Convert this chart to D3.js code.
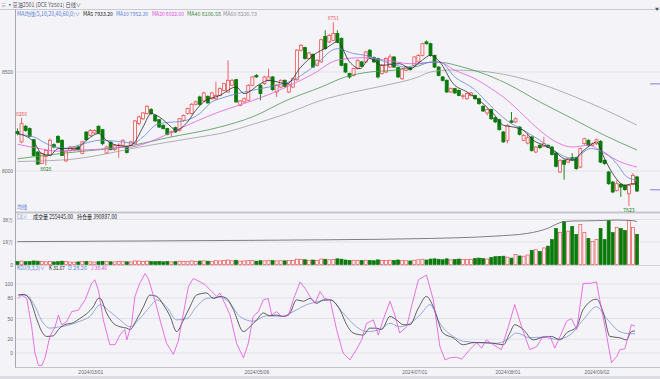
<!DOCTYPE html>
<html>
<head>
<meta charset="utf-8">
<script src="https://cdn.jsdelivr.net/npm/d3@7"></script>
<style>
body{margin:0;background:#f4f4f8;}
svg{display:block;font-family:"Noto Sans CJK SC","Noto Sans",sans-serif;}
</style>
</head>
<body>
<svg id="chart" width="660" height="379"></svg>
<script>
// daily candles, index 0 = first bar on the left
const opens=[8200,8147,8226,8214,8158,8096,8037,8074,8079,8133,
8175,8155,8051,8104,8108,8121,8088,8197,8180,8192,
8226,8209,8091,8145,8108,8128,8130,8121,8130,8138,
8240,8264,8290,8310,8281,8259,8231,8214,8195,8219,
8205,8256,8290,8290,8337,8374,8354,8377,8365,8365,
8382,8407,8399,8433,8461,8332,8349,8357,8433,8482,
8433,8441,8458,8475,8399,8424,8458,8399,8424,8461,
8610,8623,8568,8589,8534,8551,8680,8652,8660,8694,
8669,8542,8492,8483,8517,8551,8551,8610,8573,8568,
8492,8500,8525,8576,8522,8466,8509,8522,8534,8551,
8584,8652,8643,8584,8525,8475,8458,8399,8416,8407,
8377,8365,8381,8381,8365,8327,8293,8310,8269,8259,
8197,8155,8253,8248,8222,8155,8141,8172,8096,8130,
8125,8130,8121,8091,7995,8054,8045,8067,8067,8020,
8138,8155,8130,8138,8150,8054,7995,7944,7902,7933,
7928,7885,7933,7970];
const highs=[8215,8268,8232,8220,8162,8100,8092,8110,8165,8140,
8180,8160,8105,8128,8126,8130,8152,8200,8212,8210,
8230,8212,8128,8150,8135,8140,8160,8125,8152,8258,
8280,8298,8332,8318,8285,8262,8235,8218,8205,8224,
8268,8286,8320,8342,8356,8380,8400,8382,8400,8450,
8422,8446,8559,8465,8466,8358,8372,8438,8480,8490,
8438,8480,8517,8480,8438,8463,8462,8444,8472,8616,
8640,8628,8602,8594,8565,8668,8711,8692,8751,8711,
8675,8546,8496,8522,8564,8556,8606,8616,8578,8572,
8540,8574,8590,8580,8526,8522,8530,8526,8580,8590,
8648,8660,8648,8588,8530,8480,8462,8422,8420,8412,
8388,8396,8400,8386,8370,8332,8316,8314,8274,8264,
8202,8236,8298,8270,8226,8186,8190,8176,8126,8135,
8172,8134,8125,8095,8060,8058,8068,8090,8072,8118,
8168,8160,8144,8164,8156,8058,8000,7950,7953,7938,
7932,7934,7990,7976];
const lows=[8180,8140,8198,8170,8075,8030,8035,8028,8075,8115,
8140,8075,8045,8098,8100,8104,8084,8150,8175,8188,
8188,8130,8085,8104,8100,8067,8125,8088,8125,8133,
8230,8258,8285,8285,8248,8218,8210,8180,8172,8192,
8200,8250,8285,8285,8332,8330,8348,8340,8360,8360,
8378,8402,8395,8428,8344,8327,8344,8352,8428,8470,
8357,8435,8452,8405,8374,8418,8422,8394,8418,8455,
8604,8562,8562,8520,8528,8546,8612,8646,8655,8646,
8528,8494,8466,8478,8512,8524,8546,8570,8546,8468,
8486,8494,8520,8520,8470,8460,8504,8506,8528,8546,
8578,8638,8578,8520,8478,8452,8394,8394,8390,8378,
8362,8360,8376,8360,8335,8298,8281,8258,8242,8204,
8142,8140,8240,8242,8180,8150,8135,8098,8090,8112,
8120,8116,8078,8018,7990,7956,8040,8050,8006,8014,
8132,8124,8125,8132,8040,8032,7930,7888,7896,7869,
7900,7823,7928,7894];
const closes=[8189,8239,8205,8175,8079,8035,8088,8104,8155,8121,
8145,8079,8101,8121,8121,8108,8147,8158,8205,8205,
8192,8138,8121,8108,8130,8131,8155,8094,8147,8253,
8273,8293,8327,8290,8253,8222,8214,8185,8198,8197,
8264,8281,8315,8337,8349,8337,8394,8344,8394,8382,
8416,8441,8458,8458,8349,8354,8365,8433,8475,8475,
8391,8475,8475,8411,8433,8458,8428,8438,8466,8610,
8635,8568,8596,8525,8559,8663,8618,8685,8694,8652,
8534,8500,8475,8517,8559,8529,8601,8576,8551,8475,
8534,8568,8576,8525,8475,8517,8525,8512,8576,8584,
8643,8643,8584,8525,8483,8458,8399,8416,8394,8382,
8380,8391,8394,8365,8340,8303,8310,8264,8248,8209,
8147,8231,8246,8264,8185,8180,8168,8104,8121,8118,
8138,8121,8084,8024,8054,8034,8062,8057,8012,8113,
8163,8130,8138,8158,8045,8037,7936,7894,7936,7919,
7906,7928,7978,7899];
// volume in 万 lots
const volumes=[2.6,2.9,2.4,2.5,3.0,2.8,2.7,2.3,2.5,2.2,
2.4,2.8,2.6,2.1,2.0,2.2,2.5,2.6,2.3,2.1,
2.4,2.7,2.5,2.3,2.2,2.6,2.4,2.3,2.2,3.0,
2.9,2.6,2.8,2.5,2.4,2.6,2.3,2.5,2.2,2.4,
2.8,2.6,2.7,3.0,2.5,2.9,3.1,2.8,2.6,3.2,
3.0,3.3,3.8,3.1,3.6,2.9,3.0,3.4,3.5,2.8,
3.2,3.1,3.4,3.3,3.0,3.2,3.1,3.3,3.5,4.5,
4.2,4.0,3.6,3.8,3.5,4.6,4.4,4.0,4.3,4.8,
4.5,3.8,3.5,3.6,3.4,3.3,3.6,3.4,3.2,3.9,
3.5,3.4,3.6,3.3,3.8,3.5,3.2,3.0,3.6,4.0,
4.5,3.8,4.6,4.8,4.4,4.0,4.8,3.9,4.2,4.6,
4.3,4.1,4.4,5.0,5.4,5.0,4.6,5.8,6.6,6.8,
7.0,6.2,5.4,8.5,7.2,7.0,8.0,12.0,12.5,11.0,
14.0,15.5,21.0,30.4,27.0,36.3,28.2,32.1,25.3,33.8,
27.0,22.0,19.4,21.1,30.4,21.1,37.2,27.0,31.2,30.4,
28.7,37.2,31.2,25.5];
// open interest (万), [bar index, value]
const openInterest=[[0,19.3],[37,20.0],[77,20.9],[102,22.0],[118,24.0],[126,26.3],[131,30.6],[134,35.3],[137,36.7],[143,37.0],[148,37.5],[152,37.0],[153,36.2]];

// moving averages, [bar index, price]
const ma5=[[0,8190],[4,8147],[6,8088],[8,8079],[10,8113],[12,8113],[14.5,8113],[17,8155],[20,8189],[22,8155],[24.5,8130],[27,8125],[28.6,8138],[31,8222],[33,8290],[35,8273],[38,8222],[39,8205],[42,8248],[44,8306],[46,8349],[50,8382],[54,8424],[56,8391],[60,8441],[62,8458],[66.5,8441],[70,8525],[73,8584],[76.6,8626],[79,8652],[82,8551],[84.6,8517],[87,8568],[90,8534],[94.4,8542],[97,8517],[99.4,8551],[102,8584],[104.3,8551],[107.6,8441],[111,8399],[112.6,8377],[115,8340],[117.5,8290],[120,8231],[122.5,8222],[125,8205],[127.4,8155],[130,8130],[132.4,8104],[135,8062],[137.3,8054],[139,8088],[141.5,8130],[143,8147],[144.8,8071],[147,7987],[150,7928],[152,7936],[153,7933]];
const ma10=[[0,8185],[4,8172],[8,8130],[12,8115],[16.3,8138],[20.4,8155],[24.5,8150],[28.6,8141],[31,8172],[34.4,8235],[37,8245],[39,8248],[41.7,8256],[45,8290],[48,8349],[50,8365],[56,8399],[62,8424],[68,8458],[73,8525],[79,8618],[83,8593],[86,8584],[91,8550],[96,8525],[99.4,8542],[104.3,8551],[108,8475],[112.6,8416],[116.7,8332],[120.8,8256],[125,8205],[129,8155],[133,8096],[137.3,8062],[141.5,8113],[144.8,8096],[148,8037],[150.5,7970],[153,7953]];
const ma20=[[0,8135],[5,8115],[10,8100],[15,8105],[20,8110],[25,8118],[28,8121],[33,8150],[38,8195],[44,8250],[50,8300],[58,8355],[66,8420],[73,8490],[79,8560],[85,8572],[91,8560],[97,8542],[104,8550],[108,8509],[113,8466],[117,8416],[121,8357],[125,8281],[129,8205],[133,8147],[137,8121],[141,8130],[145,8088],[149,8045],[153,8020]];
const ma40=[[0,8062],[12,8091],[28.6,8130],[37,8168],[50,8222],[58,8273],[66.5,8357],[75,8424],[81,8475],[87,8500],[93,8509],[99,8530],[102,8550],[105,8548],[109,8530],[114,8500],[121,8440],[129,8349],[137,8265],[145,8180],[153,8106]];
const ma60=[[0,8048],[12,8057],[20,8079],[28.6,8115],[37,8145],[45,8172],[50,8189],[58,8235],[66.5,8290],[75,8357],[83,8399],[91,8433],[99,8475],[102,8500],[107,8510],[114,8505],[122,8480],[129,8441],[137,8380],[144,8320],[153,8231]];

// KDJ(9,3,3), [bar index, value]
const kLine=[[0.2,84],[1.4,85],[3.1,77],[4.7,50],[6,31],[7.2,24],[8.85,25],[10.1,34],[11.7,41],[13.8,44],[15.4,50],[17.1,57],[18.7,67],[20,79],[20.4,79],[22,58],[23.7,43],[25.3,38],[27,36],[27.8,34],[29.4,48],[31.1,67],[32.7,84],[34.4,82],[36,70],[37.7,53],[39.3,31],[41,48],[42.6,67],[44.2,84],[46.7,87],[48.4,79],[50,82],[51.7,79],[53.3,63],[55.8,31],[57.4,38],[59.1,48],[60.7,58],[62.3,54],[64,55],[65.6,53],[67.3,58],[68.9,77],[70.6,75],[72.2,79],[73.9,72],[75.5,77],[77.2,77],[79.6,63],[81.3,41],[82.9,29],[85.4,26],[87,36],[88.7,36],[89.9,34],[92,53],[93.6,48],[95.3,41],[96.9,41],[99,65],[101,82],[102.7,67],[105.1,29],[107.6,22],[110.1,12],[112.6,15],[115,15],[117.5,14],[120,12],[121.6,29],[122.8,41],[124.9,34],[127.4,19],[129.8,23],[131.9,24],[134,19],[135.6,29],[138.1,38],[139.7,63],[143,78],[144.7,58],[146.3,24],[148.8,22],[150.4,19],[151.6,31],[152.5,32]];
const dLine=[[0.2,84],[2.3,84],[3.9,72],[6.4,43],[8,36],[10.5,38],[13,41],[15.4,46],[17.9,53],[20.4,70],[22.8,60],[25.3,48],[27.8,38],[30.2,50],[32.7,67],[34.4,77],[36.8,67],[39.3,48],[41.8,50],[44.2,67],[46.7,79],[50,81],[52.5,72],[54.9,53],[58.2,46],[61.5,54],[65.6,53],[68.1,60],[71.4,70],[74.7,75],[77.2,77],[80.4,58],[83.7,38],[86.2,31],[89.5,34],[92,43],[94.4,38],[96.9,43],[99.4,55],[101.9,70],[104.3,43],[107.6,24],[110.1,17],[114.2,15],[118.3,14],[120.8,19],[123.3,29],[126.5,22],[129.8,23],[133.1,20],[136.4,26],[139.7,48],[143,67],[145.5,50],[148.8,31],[151.2,28],[152.5,28]];
const jLine=[[0.2,79],[1,84],[2.3,79],[3.5,38],[4.3,0],[5.2,-18],[6,-18],[6.8,-7],[8,24],[9.3,38],[10.1,55],[10.9,41],[12.1,45],[13.4,60],[15,62],[16.7,77],[18.3,101],[19.1,106],[20,91],[21.2,48],[22.8,12],[24.1,12],[25.3,26],[26.5,34],[27,19],[28.2,43],[29,82],[30.2,101],[31.5,115],[32.3,108],[34,75],[35.2,48],[36.8,14],[38.5,-2],[39.7,17],[41,58],[42.2,96],[43.4,108],[45.1,103],[46.3,99],[48,89],[49.2,82],[50,87],[50.8,77],[52.5,55],[54.1,14],[55.8,-7],[57,14],[58.2,53],[59.5,60],[60.7,77],[61.9,79],[62.8,55],[64,60],[65.2,53],[66.9,54],[68.1,77],[69.8,103],[71,94],[72.2,82],[73.5,72],[74.7,89],[75.9,79],[77.2,77],[78.8,34],[80.4,0],[82.1,-10],[83.7,5],[85,19],[86.2,43],[87.9,48],[89.1,26],[90.3,48],[92,75],[93.2,55],[94.4,29],[96.1,38],[97.3,67],[99,106],[101,113],[102.7,77],[104.3,10],[105.6,-10],[106.8,-7],[108.4,-6],[109.7,-9],[111.7,5],[113.4,15],[114.6,7],[115.8,19],[117.5,12],[119.5,5],[121.2,38],[122.8,70],[124.5,38],[126.5,5],[128.2,9],[129.8,24],[131.5,24],[132.7,7],[134,24],[135.6,46],[136.8,50],[138.1,34],[139.7,101],[141.4,101],[143,103],[143.8,77],[145.1,38],[146.7,-14],[148,-5],[148.8,5],[150,6],[151.6,41],[152.5,39]];

// axis ticks
const dateTickIdx=[18,59,98,121,143];
const dateTickLabels=["2024/03/01","2024/05/06","2024/07/01","2024/08/01","2024/09/02"];
const priceTicks=[8000,8500];
const volTicks=[0,19,38];
const volTickLabels=["0","19万","38万"];
const kdjTicks=[0,20,50,80,100];
const markerPrices=[8440,7905];

const W=660, H=379;
const bg="#f4f4f8", red="#ee5252", green="#0b7a0b";
const svg=d3.select("#chart");
svg.append("rect").attr("width",W).attr("height",H).attr("fill",bg);

const x=d3.scaleLinear().domain([0,opens.length-1]).range([17.5,637]);
const yP=d3.scaleLinear().domain([8000,8500]).range([171,72]);
const yV=d3.scaleLinear().domain([0,38]).range([264.5,219.5]);
const yK=d3.scaleLinear().domain([0,100]).range([353,284]);

// frame
svg.append("line").attr("x1",0).attr("x2",W).attr("y1",9.5).attr("y2",9.5).attr("stroke","#c9c9d1");
svg.append("rect").attr("x",15).attr("y",211.5).attr("width",W-15).attr("height",2).attr("fill","#c6c6ce");
svg.append("line").attr("x1",15).attr("x2",W).attr("y1",265.5).attr("y2",265.5).attr("stroke","#d2d2da");
svg.append("line").attr("x1",15).attr("x2",W).attr("y1",367.5).attr("y2",367.5).attr("stroke","#c2c2ca");
svg.append("rect").attr("x",0).attr("y",376).attr("width",W).attr("height",3).attr("fill","#dcdce2");
svg.append("line").attr("x1",15.5).attr("x2",15.5).attr("y1",9.5).attr("y2",367.5).attr("stroke","#a6a6ae");

// grid
const grid=svg.append("g").attr("stroke","#dcdce2").attr("stroke-width",0.8);
grid.selectAll(".gp").data(priceTicks).join("line").attr("x1",16).attr("x2",W).attr("y1",d=>yP(d)).attr("y2",d=>yP(d));
grid.selectAll(".gv").data(volTicks.slice(1)).join("line").attr("x1",16).attr("x2",W).attr("y1",d=>yV(d)).attr("y2",d=>yV(d));
grid.selectAll(".gk").data(kdjTicks).join("line").attr("x1",16).attr("x2",W).attr("y1",d=>yK(d)).attr("y2",d=>yK(d));

// axes
const styleAxis=g=>{g.select(".domain").remove();g.selectAll("text").attr("fill","#6a6a72").style("font-size","5px");};
svg.append("g").attr("transform","translate(14,0)")
  .call(d3.axisLeft(yP).tickValues(priceTicks).tickSize(0).tickPadding(1).tickFormat(d3.format("d"))).call(styleAxis);
svg.append("g").attr("transform","translate(14,0)")
  .call(d3.axisLeft(yV).tickValues(volTicks).tickSize(0).tickPadding(1).tickFormat((d,i)=>volTickLabels[i])).call(styleAxis);
svg.append("g").attr("transform","translate(14,0)")
  .call(d3.axisLeft(yK).tickValues(kdjTicks).tickSize(0).tickPadding(1)).call(styleAxis);
svg.append("g").attr("transform","translate(0,367.5)")
  .call(d3.axisBottom(x).tickValues(dateTickIdx).tickSize(0).tickPadding(3).tickFormat((d,i)=>dateTickLabels[i])).call(styleAxis);

// candles
const idx=d3.range(opens.length);
const up=i=>closes[i]>=opens[i];
const cg=svg.append("g");
cg.selectAll(".wick").data(idx).join("line")
  .attr("x1",i=>x(i)).attr("x2",i=>x(i))
  .attr("y1",i=>yP(highs[i])).attr("y2",i=>yP(lows[i]))
  .attr("stroke",i=>up(i)?red:green).attr("stroke-width",0.9);
cg.selectAll(".body").data(idx).join("rect")
  .attr("x",i=>x(i)-1.5).attr("width",3)
  .attr("y",i=>yP(Math.max(opens[i],closes[i])))
  .attr("height",i=>Math.max(0.6,Math.abs(yP(opens[i])-yP(closes[i]))))
  .attr("fill",i=>up(i)?bg:green)
  .attr("stroke",i=>up(i)?red:green).attr("stroke-width",0.8);

// moving averages
const lineP=d3.line().x(d=>x(d[0])).y(d=>yP(d[1])).curve(d3.curveMonotoneX);
[[ma60,"#9c9ca2"],[ma40,"#4f9650"],[ma20,"#e05ee0"],[ma10,"#6287d6"],[ma5,"#2c2c2c"]].forEach(([s,c])=>{
  svg.append("path").datum(s).attr("d",lineP).attr("fill","none").attr("stroke",c).attr("stroke-width",0.8);
});

// high / low labels
const hiIdx=d3.maxIndex(highs), loIdx=d3.minIndex(lows);
const lbl=[[1,highs[1],-2,red],[7,lows[7],6,green],[hiIdx,highs[hiIdx],-2,red],[loIdx,lows[loIdx],6,green]];
svg.selectAll(".hl").data(lbl).join("text")
  .attr("x",d=>x(d[0])).attr("y",d=>yP(d[1])+d[2])
  .attr("text-anchor","middle").style("font-size","5px").attr("fill",d=>d[3]).text(d=>d[1]);

// right-side markers
svg.selectAll(".mk").data(markerPrices).join("line")
  .attr("x1",650).attr("x2",W).attr("y1",d=>yP(d)).attr("y2",d=>yP(d))
  .attr("stroke","#7b6fe0").attr("stroke-width",0.9);

// volume
const vg=svg.append("g");
vg.selectAll("rect").data(idx).join("rect")
  .attr("x",i=>x(i)-1.5).attr("width",3)
  .attr("y",i=>yV(volumes[i])).attr("height",i=>yV(0)-yV(volumes[i]))
  .attr("fill",i=>up(i)?bg:green).attr("stroke",i=>up(i)?red:green).attr("stroke-width",0.7);
svg.append("path").datum(openInterest)
  .attr("d",d3.line().x(d=>x(d[0])).y(d=>yV(d[1])).curve(d3.curveMonotoneX))
  .attr("fill","none").attr("stroke","#707078").attr("stroke-width",0.9);

// KDJ
const lineK=d3.line().x(d=>x(d[0])).y(d=>yK(d[1])).curve(d3.curveMonotoneX);
svg.append("path").datum(dLine).attr("d",lineK).attr("fill","none").attr("stroke","#7895d6").attr("stroke-width",0.8);
svg.append("path").datum(kLine).attr("d",lineK).attr("fill","none").attr("stroke","#3a3a3a").attr("stroke-width",0.8);
svg.append("path").datum(jLine).attr("d",lineK.curve(d3.curveLinear)).attr("fill","none").attr("stroke","#e052e0").attr("stroke-width",0.8);

// header texts, widths fitted to the reference
const txt=(xx,yy,s,c,w)=>svg.append("text").attr("x",xx).attr("y",yy).style("font-size","5.5px").attr("fill",c)
  .attr("textLength",w).attr("lengthAdjust","spacingAndGlyphs").text(s);
txt(1,6.5,"≡ ▪豆油2501 (DCE Y2501)  日线∨","#505058",80);
svg.append("text").attr("x",657).attr("y",11).attr("text-anchor","middle").style("font-size","4px").attr("fill","#555").text("▼");
txt(17,15.5,"MA均线(5,10,20,40,60,0)∨","#5a7fd8",63);
txt(83,15.5,"MA5 7933.20","#222",30);
txt(116,15.5,"MA10 7952.30","#5a7fd8",32);
txt(152,15.5,"MA20 8022.60","#e04fe0",32);
txt(187,15.5,"MA40 8106.58","#3f8c40",34);
txt(223,15.5,"MA60 8230.73","#8e8e96",34);
txt(17,209,"均线","#5a7fd8",10);
txt(17,218.5,"CJL∨","#5a7fd8",10);
txt(33,218.5,"成交量 255445.00","#222",40);
txt(77,218.5,"持仓量 390887.00","#222",40);
txt(17,270,"KDJ(9,3,3)∨","#5a7fd8",28);
txt(49,270,"K 31.67","#222",16);
txt(68,270,"D 28.26","#5a7fd8",19);
txt(91,270,"J 38.46","#e04fe0",16);
</script>
</body>
</html>
